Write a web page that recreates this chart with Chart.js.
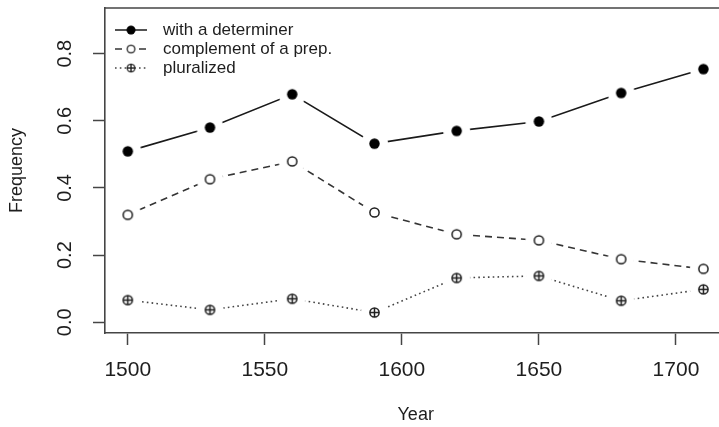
<!DOCTYPE html>
<html>
<head>
<meta charset="utf-8">
<script src="https://cdn.jsdelivr.net/npm/chart.js@4/dist/chart.umd.min.js"></script>
<style>
  html, body { margin: 0; padding: 0; background: #fff; overflow: hidden; }
  #wrap { width: 719px; height: 427px; overflow: hidden; background: #fff; }
  canvas { display: block; }
</style>
</head>
<body>
<div id="wrap"><canvas id="c" width="740" height="427"></canvas></div>
<script>
// Share of each construction per 30-year period
const years = [1500, 1530, 1560, 1590, 1620, 1650, 1680, 1710];
const withDeterminer   = [0.509, 0.580, 0.679, 0.532, 0.570, 0.598, 0.683, 0.754];
const complementOfPrep = [0.320, 0.426, 0.479, 0.327, 0.262, 0.244, 0.188, 0.159];
const pluralized       = [0.066, 0.037, 0.070, 0.029, 0.132, 0.138, 0.064, 0.098];
const seriesNames = ['with a determiner', 'complement of a prep.', 'pluralized'];
const xTicks = [1500, 1550, 1600, 1650, 1700];
const yTicks = [0.0, 0.2, 0.4, 0.6, 0.8];

const FONT = '"Liberation Sans", Arial, Helvetica, sans-serif';
const INK = '#1e1e1e';
const AXIS = '#454545';

// Point symbols: filled dot, open circle, circle with a cross.
// With a white halo they leave a gap in the connecting line.
function makeMarker(kind, halo) {
  const r = kind === 'filled' ? 5.2 : 4.6;
  const h = halo ? 13.5 : 0;
  const size = Math.ceil(2 * Math.max(h, r + 2)) + 2;
  const cv = document.createElement('canvas');
  cv.width = cv.height = size;
  const g = cv.getContext('2d');
  const m = size / 2;
  if (halo) {
    g.fillStyle = '#fff';
    g.beginPath(); g.arc(m, m, h, 0, Math.PI * 2); g.fill();
  }
  g.lineWidth = 1.5;
  g.strokeStyle = INK;
  g.beginPath(); g.arc(m, m, r, 0, Math.PI * 2);
  if (kind === 'filled') {
    g.fillStyle = '#000'; g.fill();
  } else {
    g.fillStyle = '#fff'; g.fill(); g.stroke();
  }
  if (kind === 'plus') {
    g.beginPath();
    g.moveTo(m - r, m); g.lineTo(m + r, m);
    g.moveTo(m, m - r); g.lineTo(m, m + r);
    g.stroke();
  }
  return cv;
}

const styles = [
  { kind: 'filled', color: '#1a1a1a', dash: [] },
  { kind: 'open',   color: '#353535', dash: [7, 5] },
  { kind: 'plus',   color: '#444444', dash: [1.6, 3.2] }
];
const seriesValues = [withDeterminer, complementOfPrep, pluralized];

const datasets = seriesValues.map((vals, i) => ({
  label: seriesNames[i],
  data: years.map((yr, j) => ({ x: yr, y: vals[j] })),
  borderColor: styles[i].color,
  borderWidth: 1.6,
  borderDash: styles[i].dash,
  pointStyle: makeMarker(styles[i].kind, true),
  pointRadius: 5,
  pointHoverRadius: 5,
  fill: false,
  tension: 0
}));

// Closed frame around the plotting region
const framePlugin = {
  id: 'frame',
  beforeDatasetsDraw(chart) {
    const { ctx, chartArea: a } = chart;
    ctx.save();
    ctx.strokeStyle = AXIS;
    ctx.lineWidth = 1.6;
    ctx.beginPath();
    ctx.moveTo(a.left, a.top); ctx.lineTo(a.right, a.top); ctx.lineTo(a.right, a.bottom);
    ctx.stroke();
    ctx.restore();
  }
};

// Legend in the upper-left corner: line sample with symbol, then the name
const legendPlugin = {
  id: 'cornerLegend',
  afterDraw(chart) {
    const { ctx } = chart;
    const x0 = 115, x1 = 147, tx = 163, y0 = 30, dy = 19;
    ctx.save();
    chart.data.datasets.forEach((ds, i) => {
      const y = y0 + i * dy;
      ctx.strokeStyle = styles[i].color;
      ctx.lineWidth = 1.5;
      ctx.setLineDash(styles[i].dash);
      ctx.beginPath(); ctx.moveTo(x0, y); ctx.lineTo(x1, y); ctx.stroke();
      ctx.setLineDash([]);
      const mk = makeMarker(styles[i].kind, false);
      const w = mk.width * 0.85;
      ctx.drawImage(mk, (x0 + x1) / 2 - w / 2, y - w / 2, w, w);
      ctx.fillStyle = INK;
      ctx.font = '17px ' + FONT;
      ctx.textAlign = 'left';
      ctx.textBaseline = 'middle';
      ctx.fillText(ds.label, tx, y);
    });
    ctx.restore();
  }
};

new Chart(document.getElementById('c'), {
  type: 'line',
  data: { datasets },
  plugins: [framePlugin, legendPlugin],
  options: {
    responsive: false,
    animation: false,
    events: [],
    layout: { padding: { left: 0, top: 8, right: 13.6, bottom: 0 } },
    plugins: { legend: { display: false }, tooltip: { enabled: false } },
    scales: {
      x: {
        type: 'linear',
        min: 1491.7,
        max: 1718.4,
        afterBuildTicks: s => { s.ticks = xTicks.map(v => ({ value: v })); },
        afterFit: s => { s.height = 94; s.paddingLeft = 0; s.paddingRight = 0; },
        grid: { drawOnChartArea: false, drawTicks: true, tickLength: 12, tickColor: AXIS, tickWidth: 1.5 },
        border: { display: true, color: AXIS, width: 1.6 },
        ticks: {
          autoSkip: false, maxRotation: 0, padding: 13, color: INK,
          font: { family: FONT, size: 21 },
          callback: v => String(v)
        },
        title: {
          display: true, text: 'Year', color: INK,
          font: { family: FONT, size: 18 },
          padding: { top: 0, bottom: 0.7 }
        }
      },
      y: {
        type: 'linear',
        min: -0.032,
        max: 0.936,
        afterBuildTicks: s => { s.ticks = yTicks.map(v => ({ value: v })); },
        afterFit: s => { s.width = 105; s.paddingTop = 0; s.paddingBottom = 0; },
        grid: { drawOnChartArea: false, drawTicks: true, tickLength: 12, tickColor: AXIS, tickWidth: 1.5 },
        border: { display: true, color: AXIS, width: 1.6 },
        ticks: {
          autoSkip: false, minRotation: 90, maxRotation: 90, crossAlign: 'center',
          padding: 13.6, color: INK,
          font: { family: FONT, size: 20 },
          callback: v => Number(v).toFixed(1)
        },
        title: {
          display: true, text: 'Frequency', color: INK,
          font: { family: FONT, size: 18 },
          padding: { top: 6, bottom: 0 }
        }
      }
    }
  }
});
</script>
</body>
</html>
